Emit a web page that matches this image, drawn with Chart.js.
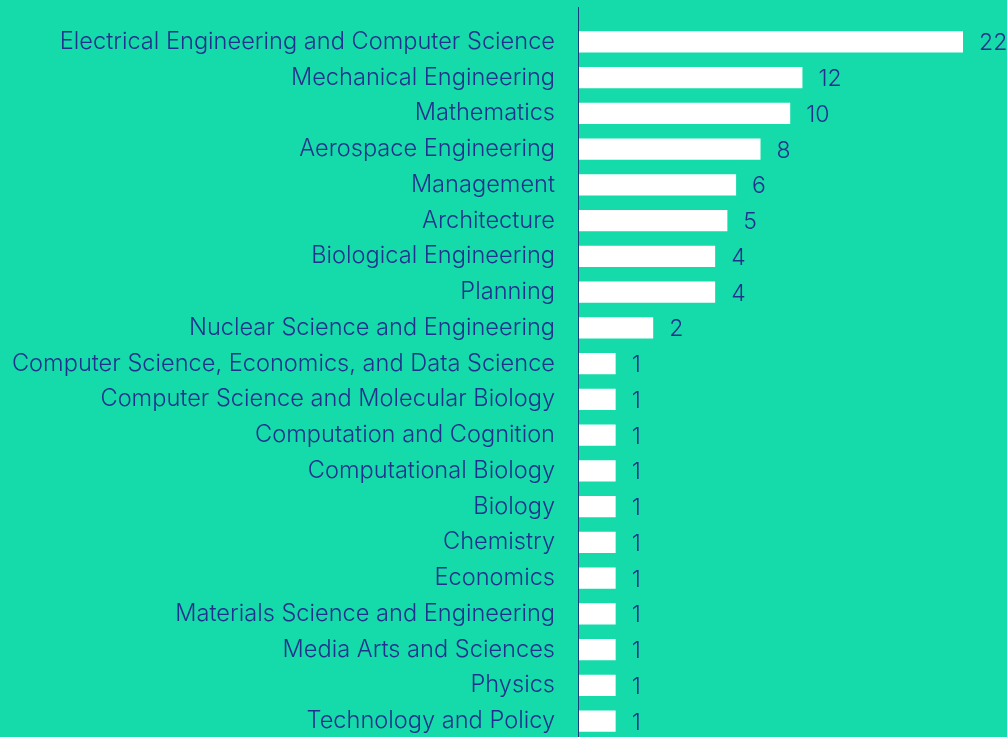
<!DOCTYPE html>
<html>
<head>
<meta charset="utf-8">
<script src="https://cdn.jsdelivr.net/npm/chart.js@4"></script>
<style>
  html, body { margin: 0; padding: 0; background: #15dbaa; overflow: hidden; }
  canvas { display: block; }
</style>
</head>
<body>
<canvas id="chart" width="1007" height="740"></canvas>
<script>
// 専攻ごとの人数
const majors = [
  "Electrical Engineering and Computer Science",
  "Mechanical Engineering",
  "Mathematics",
  "Aerospace Engineering",
  "Management",
  "Architecture",
  "Biological Engineering",
  "Planning",
  "Nuclear Science and Engineering",
  "Computer Science, Economics, and Data Science",
  "Computer Science and Molecular Biology",
  "Computation and Cognition",
  "Computational Biology",
  "Biology",
  "Chemistry",
  "Economics",
  "Materials Science and Engineering",
  "Media Arts and Sciences",
  "Physics",
  "Technology and Policy"
];
const counts = [22, 12, 10, 8, 6, 5, 4, 4, 2, 1, 1, 1, 1, 1, 1, 1, 1, 1, 1, 1];
// バーの長さ (元の図は比例していないので図から読み取り)
const barLengths = [22, 12.8, 12.1, 10.4, 9.0, 8.5, 7.8, 7.8, 4.25, 2.1, 2.1, 2.1, 2.1, 2.1, 2.1, 2.1, 2.1, 2.1, 2.1, 2.1];
const xMax = 24.52;

const textColor = "#22318e";
const fontFamily = "Inter, 'Noto Sans', sans-serif";

// 数値ラベルと軸線
const valueLabels = {
  id: "valueLabels",
  afterDatasetsDraw(chart) {
    const { ctx } = chart;
    const meta = chart.getDatasetMeta(0);
    ctx.save();
    ctx.fillStyle = textColor;
    ctx.font = "300 23px " + fontFamily;
    ctx.textBaseline = "middle";
    ctx.textAlign = "left";
    meta.data.forEach((bar, i) => {
      ctx.fillText(String(counts[i]), bar.x + 16, bar.y + 1.5);
    });
    // 縦の軸線
    const x = chart.chartArea.left;
    ctx.strokeStyle = "#1d3a7a";
    ctx.lineWidth = 1;
    ctx.beginPath();
    ctx.moveTo(x - 0.5, 7);
    ctx.lineTo(x - 0.5, chart.height);
    ctx.stroke();
    ctx.restore();
  }
};

new Chart(document.getElementById("chart"), {
  type: "bar",
  data: {
    labels: majors,
    datasets: [{
      data: barLengths,
      backgroundColor: "#ffffff",
      borderWidth: 0,
      barPercentage: 0.59,
      categoryPercentage: 1
    }]
  },
  options: {
    indexAxis: "y",
    responsive: false,
    animation: false,
    layout: { padding: { top: 24, bottom: 1, left: 0, right: 0 } },
    plugins: {
      legend: { display: false },
      tooltip: { enabled: false }
    },
    scales: {
      x: { display: false, min: 0, max: xMax },
      y: {
        afterFit: s => { s.width = 579; s.paddingTop = 0; s.paddingBottom = 0; },
        grid: { display: false, drawTicks: false },
        border: { display: false },
        ticks: {
          padding: 24,
          color: textColor,
          font: { size: 23.6, weight: "300", family: fontFamily }
        }
      }
    }
  },
  plugins: [valueLabels]
});
</script>
</body>
</html>
